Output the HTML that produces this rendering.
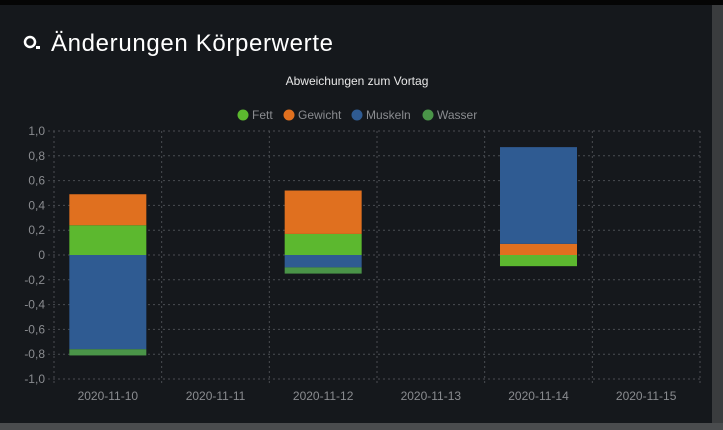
<!DOCTYPE html>
<html><head><meta charset="utf-8"><style>
body{margin:0;width:723px;height:430px;background:#3a3c3e;overflow:hidden;font-family:"Liberation Sans",sans-serif}
#panel{position:absolute;left:0;top:5px;width:712px;height:418px;background:#15181c}
#top{position:absolute;left:0;top:0;width:723px;height:5px;background:#050505}
#bottom{position:absolute;left:0;top:423px;width:723px;height:7px;background:#4a4c4e}
</style></head><body>
<div id="top"></div>
<div id="panel"></div>
<div id="bottom"></div>
<svg id="chart" width="723" height="430" style="position:absolute;left:0;top:0">
<g>
<circle cx="30" cy="42" r="5" fill="none" stroke="#fff" stroke-width="2.5"/><rect x="36" y="46" width="4" height="3" fill="#fff"/>
<text x="51" y="51" font-size="24" fill="#fff" textLength="282" font-family="Liberation Sans, DejaVu Sans, sans-serif">Änderungen Körperwerte</text>
</g>
<text x="357" y="85" font-size="12" fill="#e8e8e8" text-anchor="middle">Abweichungen zum Vortag</text>
<g id="legend"></g>
<g id="grid"></g>
<g id="bars"></g>
</svg>
<script>
const categories=["2020-11-10","2020-11-11","2020-11-12","2020-11-13","2020-11-14","2020-11-15"];
const seriesNames=["Fett","Gewicht","Muskeln","Wasser"];
const fett=[0.24,0,0.17,0,-0.09,0];
const gewicht=[0.25,0,0.35,0,0.09,0];
const muskeln=[-0.76,0,-0.10,0,0.78,0];
const wasser=[-0.05,0,-0.05,0,0,0];
const yTicks=[1.0,0.8,0.6,0.4,0.2,0,-0.2,-0.4,-0.6,-0.8,-1.0];
const colors=["#5cb82f","#e0701f","#2f5b92","#4a9448"];
const NS="http://www.w3.org/2000/svg";
const X0=54,X1=700,Ytop=131,Ybot=379;
const y=v=>Ytop+(1-v)/2*(Ybot-Ytop);
const band=(X1-X0)/categories.length;
const x=i=>X0+band*i;
function el(t,a,p){const e=document.createElementNS(NS,t);for(const k in a)e.setAttribute(k,a[k]);p.appendChild(e);return e;}
const grid=document.getElementById('grid');
yTicks.forEach(t=>{
 const l=el('line',{x1:X0-6,x2:X1,y1:y(t),y2:y(t),stroke:'#4a4d52','stroke-dasharray':'2,3'},grid);
 
 
 const tx=el('text',{x:X0-9,y:y(t)+4,'text-anchor':'end','font-size':12,fill:'#8a8c90'},grid);
 tx.textContent=t===0?'0':t.toFixed(1).replace('.',',');
 
 
});
for(let i=0;i<=categories.length;i++){
 const l=el('line',{x1:x(i),x2:x(i),y1:Ytop,y2:Ybot+6,stroke:'#4a4d52','stroke-dasharray':'2,3'},grid);
 
 
}
categories.forEach((c,i)=>{
 const tx=el('text',{x:x(i)+band/2,y:Ybot+21,'text-anchor':'middle','font-size':12,fill:'#8a8c90'},grid);
 tx.textContent=c;
 
 
});
const bars=document.getElementById('bars');
const all=[fett,gewicht,muskeln,wasser];
const bw=77;
categories.forEach((c,i)=>{
 let pos=0,neg=0;
 all.forEach((s,k)=>{
  const v=s[i]; if(!v) return;
  let a,b; if(v>0){a=pos;b=pos+v;pos=b;}else{a=neg;b=neg+v;neg=b;}
  const r=el('rect',{x:x(i)+(band-bw)/2,y:Math.min(y(a),y(b)),width:bw,height:Math.abs(y(a)-y(b)),fill:colors[k]},bars);
  
  
 });
});
const legend=document.getElementById('legend');
const lx=[243,289,357,428];
seriesNames.forEach((n,k)=>{
 const g=el('g',{},legend);
 
 
 el('circle',{cx:lx[k],cy:115,r:5.5,fill:colors[k]},g);
 const t=el('text',{x:lx[k]+9,y:119,'font-size':12,fill:'#8a8c90'},g);t.textContent=n;
});
</script>
</body></html>
